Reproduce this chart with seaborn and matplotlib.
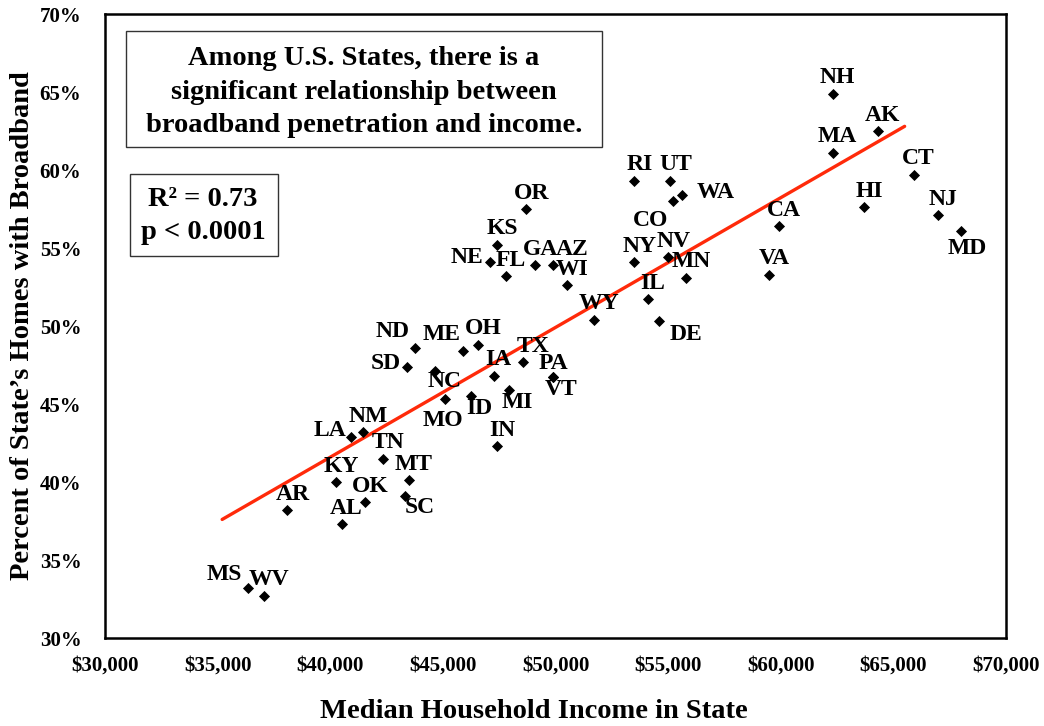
import numpy as np
import pandas as pd
import matplotlib
matplotlib.use('Agg')
import matplotlib.pyplot as plt
import matplotlib.ticker as mticker
from matplotlib.patches import Rectangle
import seaborn as sns

# values
states = ['NH', 'AK', 'MA', 'CT', 'HI', 'NJ', 'MD', 'CA', 'VA', 'RI',
          'UT', 'WA', 'CO', 'OR', 'KS', 'NE', 'FL', 'GA', 'AZ', 'WI',
          'NY', 'NV', 'MN', 'IL', 'WY', 'DE', 'TX', 'IA', 'PA', 'VT',
          'MI', 'IN', 'ND', 'SD', 'ME', 'OH', 'NC', 'MO', 'ID', 'NM',
          'LA', 'TN', 'KY', 'MT', 'OK', 'SC', 'AR', 'AL', 'MS', 'WV']
income = [62300, 64300, 62300, 65900, 63700, 67000, 68000, 59900, 59500, 53500,
          55100, 55600, 55200, 48700, 47400, 47100, 47800, 49100, 49900, 50500,
          53500, 55000, 55800, 54100, 51700, 54600, 48550, 47250, 49900, 49900,
          47950, 47400, 43750, 43400, 45900, 46550, 44650, 45100, 46250, 41450,
          40900, 42350, 40250, 43500, 41550, 43300, 38100, 40500, 36350, 37050]
broadband = [64.9, 62.5, 61.1, 59.7, 57.6, 57.1, 56.1, 56.4, 53.3, 59.3,
             59.3, 58.4, 58.0, 57.5, 55.2, 54.1, 53.2, 53.9, 53.9, 52.6,
             54.1, 54.4, 53.1, 51.7, 50.4, 50.3, 47.7, 46.8, 46.7, 46.7,
             45.9, 42.3, 48.6, 47.4, 48.4, 48.8, 47.1, 45.3, 45.5, 43.2,
             42.9, 41.5, 40.0, 40.1, 38.7, 39.1, 38.2, 37.3, 33.2, 32.7]

# fitted trend line as drawn in the reference
trend_income = [35200, 65500]
trend_broadband = [37.6, 62.8]

note_text = 'Among U.S. States, there is a\nsignificant relationship between\nbroadband penetration and income.'
stats_text = 'R\u00b2 = 0.73\np < 0.0001'

df = pd.DataFrame({'state': states, 'income': income, 'broadband': broadband})

# label offsets in pixels (right, up); default is just above the point
label_default = (5, 16)
label_offsets = {
    'WA': (34, 2), 'CO': (-22, -19), 'NE': (-23, 5), 'AZ': (19, 16),
    'DE': (27, -13), 'TX': (10, 15), 'PA': (0, 14), 'VT': (8, -12),
    'MI': (8, -13), 'ND': (-22, 16), 'SD': (-21, 3), 'ME': (-22, 16),
    'NC': (10, -10), 'MO': (-2, -21), 'ID': (8, -12), 'LA': (-21, 6),
    'SC': (15, -11), 'MS': (-24, 14), 'MD': (6, -18),
}

sns.set_style('white')
plt.rcParams['font.family'] = ['Liberation Serif', 'DejaVu Serif']
plt.rcParams['text.color'] = 'black'
plt.rcParams['axes.labelcolor'] = 'black'

fig = plt.figure(figsize=(10.44, 7.26), dpi=100)
ax = fig.add_axes([0.1006, 0.1212, 0.863, 0.8595])

sns.lineplot(x=trend_income, y=trend_broadband, color='#ff2a0a', linewidth=2.4, ax=ax)
sns.scatterplot(data=df, x='income', y='broadband', marker='D', color='black',
                s=32, linewidth=0, ax=ax, zorder=3)

for st, xi, yi in zip(states, income, broadband):
    dx, dy = label_offsets.get(st, label_default)
    ax.annotate(st, (xi, yi), xytext=(dx, dy), textcoords='offset pixels',
                ha='center', va='center', fontsize=17, fontweight='bold',
                color='black', zorder=4)

ax.set_xlim(30000, 70000)
ax.set_ylim(30, 70)
ax.set_xticks(np.arange(30000, 70001, 5000))
ax.set_yticks(np.arange(30, 71, 5))
ax.xaxis.set_major_formatter(mticker.FuncFormatter(lambda v, p: f'${v:,.0f}'))
ax.yaxis.set_major_formatter(mticker.FuncFormatter(lambda v, p: f'{v:.0f}%'))
ax.tick_params(axis='both', direction='out', length=4, width=0.8, color='#888888',
               labelcolor='black')
ax.tick_params(axis='x', pad=9, labelsize=15)
ax.tick_params(axis='y', pad=13, labelsize=15)
for lab in ax.get_xticklabels() + ax.get_yticklabels():
    lab.set_fontweight('bold')

for sp in ax.spines.values():
    sp.set_visible(True)
    sp.set_color('black')
    sp.set_linewidth(1.8)

ax.set_xlabel('Median Household Income in State', fontsize=20.5, fontweight='bold')
ax.set_ylabel('Percent of State\u2019s Homes with Broadband', fontsize=20.5, fontweight='bold')
ax.xaxis.set_label_coords(0.476, -0.097)
ax.yaxis.set_label_coords(-0.078, 0.5)

# annotation boxes
ax.add_patch(Rectangle((0.0233, 0.7869), 0.5283, 0.1859, transform=ax.transAxes,
                       facecolor='white', edgecolor='#333333', linewidth=1, zorder=5))
ax.text(0.2875, 0.875, note_text, transform=ax.transAxes, ha='center', va='center',
        fontsize=20.5, fontweight='bold', linespacing=1.45, zorder=6)
ax.add_patch(Rectangle((0.0277, 0.6122), 0.1643, 0.1314, transform=ax.transAxes,
                       facecolor='white', edgecolor='#333333', linewidth=1, zorder=5))
ax.text(0.1088, 0.676, stats_text, transform=ax.transAxes, ha='center', va='center',
        fontsize=20.5, fontweight='bold', linespacing=1.45, zorder=6)

fig.savefig('out.png', dpi=100)
